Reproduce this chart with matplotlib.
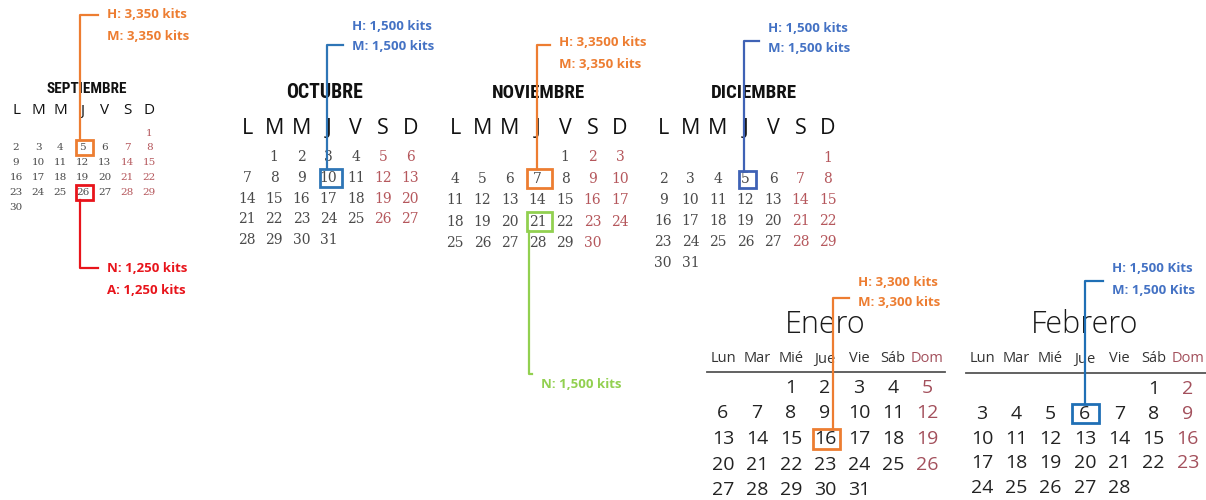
import matplotlib
matplotlib.use("Agg")
import matplotlib.pyplot as plt
from matplotlib.patches import Rectangle
from matplotlib import font_manager as fm

# ---------------- data ----------------
month_names = ["SEPTIEMBRE", "OCTUBRE", "NOVIEMBRE", "DICIEMBRE", "Enero", "Febrero"]
first_weekday = [6, 1, 4, 6, 2, 5]          # 0 = lunes
days_in_month = [30, 31, 30, 31, 31, 28]
short_headers = ["L", "M", "M", "J", "V", "S", "D"]
long_headers = ["Lun", "Mar", "Mié", "Jue", "Vie", "Sáb", "Dom"]

ann_month = [0, 0, 1, 2, 2, 3, 4, 5]
ann_day = [5, 26, 10, 7, 21, 5, 16, 6]
ann_lines = [
    ["H: 3,350 kits", "M: 3,350 kits"],
    ["N: 1,250 kits", "A: 1,250 kits"],
    ["H: 1,500 kits", "M: 1,500 kits"],
    ["H: 3,3500 kits", "M: 3,350 kits"],
    ["N: 1,500 kits"],
    ["H: 1,500 kits", "M: 1,500 kits"],
    ["H: 3,300 kits", "M: 3,300 kits"],
    ["H: 1,500 Kits", "M: 1,500 Kits"],
]

# ---------------- styles / layout ----------------
ORANGE = "#ED7D31"
BLUE_T = "#4472C4"
BLUE_L = "#2E75B6"
RED = "#E8141B"
GREEN = "#92D050"
ann_box_color = [ORANGE, RED, BLUE_L, ORANGE, GREEN, "#3F62B5", ORANGE, "#1F6FB5"]
ann_text_color = [ORANGE, RED, BLUE_T, ORANGE, GREEN, BLUE_T, ORANGE, BLUE_T]

avail = {f.name for f in fm.fontManager.ttflist}
def pick(*names):
    for n in names:
        if n in avail:
            return n
    return "DejaVu Sans"

F_TITLE = pick("Roboto Condensed", "Liberation Sans Narrow", "Open Sans Condensed", "Roboto")
F_HEAD = pick("Open Sans", "Liberation Sans")
F_NUM = "DejaVu Serif"
F_LABEL = pick("Open Sans", "Lato")
F_MOD = pick("Open Sans", "Noto Sans")

# per calendar layout
layout = [
    dict(x0=16, dx=22.2, hy=111, ry=133, dy=14.8, tx=87, ty=89, tsize=11, hsize=11, nsize=7.5,
         box=(17, 15), style="old"),
    dict(x0=247, dx=27.2, hy=128, ry=157, dy=20.8, tx=325, ty=93, tsize=14.2, hsize=15.5, nsize=10,
         box=(22, 18), style="old"),
    dict(x0=455, dx=27.5, hy=128, ry=157, dy=21.6, tx=538, ty=93, tsize=13.6, hsize=15.5, nsize=10,
         box=(25, 19), style="old"),
    dict(x0=663, dx=27.5, hy=128, ry=158, dy=21.0, tx=754, ty=93, tsize=13.6, hsize=15.5, nsize=10,
         box=(17, 17), style="old"),
    dict(x0=723, dx=34.0, hy=359, ry=388, dy=25.5, tx=825, ty=325, tsize=22, hsize=10.5, nsize=14,
         box=(27, 20), style="new", lx=(707, 945), ly=372),
    dict(x0=982, dx=34.3, hy=359, ry=389, dy=24.8, tx=1085, ty=325, tsize=22, hsize=10.5, nsize=14,
         box=(27, 19), style="new", lx=(966, 1206), ly=373),
]

# leader geometry per annotation: (line_x, leader_y, text_x, text_y0, line_dy, direction)
ann_geom = [
    (80, 15, 107, 15, 21.5, "up"),
    (80, 268, 107, 268, 22, "down"),
    (327, 45, 352, 26, 21, "up"),
    (537, 45, 559, 43, 22, "up"),
    (529, 374, 541, 385, 22, "down"),
    (744, 41, 768, 28, 21, "up"),
    (833, 298, 858, 282, 20, "up"),
    (1085, 281, 1112, 268, 22, "up"),
]

OLD_WEEKEND = "#B5575C"
OLD_NUM = "#4A4A4A"
NEW_DOM = "#A3505C"

fig = plt.figure(figsize=(12.06, 5.0), dpi=100)
ax = fig.add_axes([0, 0, 1, 1])
ax.set_xlim(0, 1206)
ax.set_ylim(500, 0)
ax.axis("off")

def cell_pos(m, day):
    L = layout[m]
    idx = first_weekday[m] + day - 1
    col, row = idx % 7, idx // 7
    return L["x0"] + col * L["dx"], L["ry"] + row * L["dy"], col

for m, name in enumerate(month_names):
    L = layout[m]
    if L["style"] == "old":
        ax.text(L["tx"], L["ty"], name, ha="center", va="center", fontsize=L["tsize"],
                fontfamily=F_TITLE, fontweight="bold", color="#111111")
        for c, h in enumerate(short_headers):
            ax.text(L["x0"] + c * L["dx"], L["hy"], h, ha="center", va="center",
                    fontsize=L["hsize"], fontfamily=F_HEAD, color="#111111")
        for d in range(1, days_in_month[m] + 1):
            x, y, col = cell_pos(m, d)
            ax.text(x, y, str(d), ha="center", va="center", fontsize=L["nsize"],
                    fontfamily=F_NUM, color=OLD_WEEKEND if col >= 5 else OLD_NUM)
    else:
        ax.text(L["tx"], L["ty"], name, ha="center", va="center", fontsize=L["tsize"],
                fontfamily=F_MOD, fontweight="light", color="#1a1a1a")
        for c, h in enumerate(long_headers):
            ax.text(L["x0"] + c * L["dx"], L["hy"], h, ha="center", va="center",
                    fontsize=L["hsize"], fontfamily=F_MOD,
                    color=NEW_DOM if c == 6 else "#333333")
        ax.plot(L["lx"], [L["ly"], L["ly"]], color="#555555", lw=1.3)
        for d in range(1, days_in_month[m] + 1):
            x, y, col = cell_pos(m, d)
            ax.text(x, y, str(d), ha="center", va="center", fontsize=L["nsize"],
                    fontfamily=F_MOD, color=NEW_DOM if col == 6 else "#222222")

for i, m in enumerate(ann_month):
    L = layout[m]
    x, y, col = cell_pos(m, ann_day[i])
    bw, bh = L["box"]
    cx = x + (2 if L["style"] == "old" else 1)
    ax.add_patch(Rectangle((cx - bw / 2, y - bh / 2), bw, bh, fill=False,
                           edgecolor=ann_box_color[i], lw=2.0, zorder=3))
    lx, ly, tx, ty0, ldy, direction = ann_geom[i]
    y_edge = y - bh / 2 if direction == "up" else y + bh / 2
    ax.plot([lx, lx, tx - 9], [y_edge, ly, ly], color=ann_box_color[i], lw=1.6, zorder=3)
    for k, t in enumerate(ann_lines[i]):
        ax.text(tx, ty0 + k * ldy, t, ha="left", va="center", fontsize=9.5,
                fontfamily=F_LABEL, fontweight="bold", color=ann_text_color[i])

fig.savefig("out.png", dpi=100, facecolor="white")
